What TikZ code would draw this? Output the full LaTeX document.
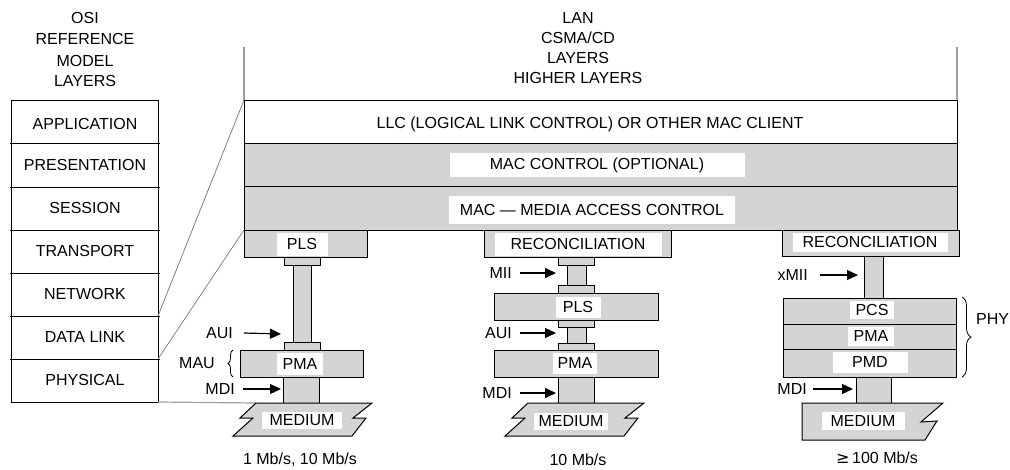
\documentclass[tikz,border=0pt]{standalone}
\usepackage{fontspec}
\setmainfont{Liberation Sans}
\newfontfamily\symfont{DejaVu Sans}
\usetikzlibrary{arrows.meta,decorations.pathreplacing}
\definecolor{shadec}{RGB}{212,212,212}
\begin{document}
\begin{tikzpicture}[x=1pt,y=-1pt,
  every node/.style={font=\fontsize{16}{19}\selectfont, inner sep=0pt},
  plain/.style={draw=black, line width=1pt},
  shadebox/.style={fill=shadec, draw=black, line width=1pt},
  wl/.style={fill=white, inner sep=0pt, minimum height=#1},
  wl/.default=22pt,
  arr/.style={-{Triangle[length=11pt,width=10pt]}, line width=1.2pt},
  grayline/.style={draw=gray, line width=0.8pt},
  dotline/.style={draw=gray!75, line width=1.8pt},
  brc/.style={decorate, line width=0.8pt, draw=black}
]
\useasboundingbox (0,0) rectangle (1010,469);

% ---------------- OSI column ----------------
\node (osi1) at (85,18) {OSI};
\node (osi2) at (85,39) {REFERENCE};
\node (osi3) at (85,61) {MODEL};
\node (osi4) at (85,81) {LAYERS};
\draw[plain] (11,100) rectangle (158,402);
\foreach \yy in {143,187,230,273,316,359} \draw[plain] (10,\yy) -- (160,\yy);
\node (app) at (85,124) {APPLICATION};
\node (pres) at (85,165) {PRESENTATION};
\node (sess) at (85,208) {SESSION};
\node (trans) at (85,251) {TRANSPORT};
\node (netw) at (85,294) {NETWORK};
\node (dl) at (85,337) {DATA LINK};
\node (phys) at (85,380) {PHYSICAL};

% ---------------- LAN header ----------------
\node (lan1) at (578,18) {LAN};
\node (lan2) at (578,38) {CSMA/CD};
\node (lan3) at (578,58) {LAYERS};
\node (lan4) at (578,78) {HIGHER LAYERS};
\draw[dotline] (244,47) -- (244,100);
\draw[dotline] (957,47) -- (957,100);

% ---------------- LAN common layers ----------------
\draw[plain] (244,100) rectangle (957,143);
\draw[shadebox] (244,143) rectangle (957,186);
\draw[shadebox] (244,186) rectangle (957,230);
\node (llc) at (590,124) {LLC (LOGICAL LINK CONTROL) OR OTHER MAC CLIENT};
\node[wl=24pt, minimum width=295pt] (macc) at (597,165) {MAC CONTROL (OPTIONAL)};
\node[wl=28pt, minimum width=286pt] (mac) at (592,210) {MAC --- MEDIA ACCESS CONTROL};

% mapping lines
\draw[grayline] (244,100) -- (158,316);
\draw[grayline] (244,230) -- (158,359);
\draw[dotline, line width=1.2pt] (158,402) -- (256,403);

% ---------------- Stack 1 ----------------
\draw[shadebox] (244,230) rectangle (367,257);
\node[wl=23pt, minimum width=51pt] (pls1) at (302,244) {PLS};
\draw[shadebox] (284,257) rectangle (320,265);
\draw[shadebox] (293,265) rectangle (311,342);
\draw[shadebox] (284,342) rectangle (320,350);
\draw[shadebox] (240,350) rectangle (363,377);
\node[wl=22pt, minimum width=46pt] (pma1) at (300,364) {PMA};
\draw[shadebox] (283,377) rectangle (319,403);
\draw[shadebox] (256,403) -- (372,403) -- (353,418) -- (366,418) -- (352,436)
   -- (233,436) -- (253,418) -- (240,418) -- cycle;
\node[wl=17pt, minimum width=80pt] (med1) at (302,420) {MEDIUM};
\node[anchor=east] (aui1) at (233,333) {AUI};
\node[anchor=east] (mau1) at (215,363) {MAU};
\node[anchor=east] (mdi1) at (235,389) {MDI};
\coordinate (aui1t) at (281,334);
\coordinate (mdi1t) at (281,389);
\draw[arr] ([xshift=11pt]aui1.east) -- (aui1t);
\draw[arr] ([xshift=8pt]mdi1.east) -- (mdi1t);
\draw[brc, decoration={brace, amplitude=5pt}] (233,377) -- (233,350);
\node (sp1) at (300,460) {1 Mb/s, 10 Mb/s};

% ---------------- Stack 2 ----------------
\draw[shadebox] (484,230) rectangle (671,257);
\node[wl=23pt, minimum width=167pt] (rec2) at (578,244) {RECONCILIATION};
\draw[shadebox] (558,257) rectangle (594,265);
\draw[shadebox] (567,265) rectangle (586,285);
\draw[shadebox] (558,285) rectangle (594,293);
\draw[shadebox] (494,293) rectangle (658,320);
\node[wl=21pt, minimum width=45pt] (pls2) at (578,307) {PLS};
\draw[shadebox] (558,320) rectangle (594,327);
\draw[shadebox] (567,327) rectangle (586,343);
\draw[shadebox] (558,343) rectangle (594,350);
\draw[shadebox] (494,350) rectangle (658,377);
\node[wl=21pt, minimum width=44pt] (pma2) at (575,363) {PMA};
\draw[shadebox] (558,377) rectangle (594,403);
\draw[shadebox] (528,403) -- (644,403) -- (625,418) -- (638,418) -- (624,436)
   -- (505,436) -- (525,418) -- (512,418) -- cycle;
\node[wl=17pt, minimum width=74pt] (med2) at (571,421) {MEDIUM};
\node[anchor=east] (mii2) at (512,273) {MII};
\node[anchor=east] (aui2) at (512,333) {AUI};
\node[anchor=east] (mdi2) at (512,393) {MDI};
\coordinate (mii2t) at (556,273);
\coordinate (aui2t) at (556,333);
\coordinate (mdi2t) at (556,393);
\draw[arr] ([xshift=8pt]mii2.east) -- (mii2t);
\draw[arr] ([xshift=8pt]aui2.east) -- (aui2t);
\draw[arr] ([xshift=8pt]mdi2.east) -- (mdi2t);
\node (sp2) at (578,460) {10 Mb/s};

% ---------------- Stack 3 ----------------
\draw[shadebox] (782,230) rectangle (959,256);
\node[wl=19pt, minimum width=155pt] (rec3) at (870,242) {RECONCILIATION};
\draw[shadebox] (864,256) rectangle (883,298);
\draw[shadebox] (783,298) rectangle (956,324);
\draw[shadebox] (783,324) rectangle (956,349);
\draw[shadebox] (783,349) rectangle (956,377);
\node[wl=18pt, minimum width=44pt] (pcs3) at (872,310) {PCS};
\node[wl=19pt, minimum width=46pt] (pma3) at (871,336) {PMA};
\node[wl=21pt, minimum width=75pt] (pmd3) at (870,362) {PMD};
\draw[shadebox] (856,377) rectangle (891,403);
\draw[shadebox] (802,403) -- (943,403) -- (921,422) -- (937,421) -- (925,440)
   -- (802,440) -- cycle;
\node[wl=18pt, minimum width=83pt] (med3) at (863,421) {MEDIUM};
\node[anchor=east] (xmii3) at (808,275) {xMII};
\node[anchor=east] (mdi3) at (807,389) {MDI};
\coordinate (xmii3t) at (858,275);
\coordinate (mdi3t) at (853,389);
\draw[arr] ([xshift=12pt]xmii3.east) -- (xmii3t);
\draw[arr] ([xshift=6pt]mdi3.east) -- (mdi3t);
\draw[brc, decoration={brace, amplitude=9pt}] (962,297) -- (962,377);
\node[anchor=west] (phy3) at (976,319) {PHY};
\node (sp3) at (877,458) {{\symfont ≥}\,100 Mb/s};
\end{tikzpicture}
\end{document}
